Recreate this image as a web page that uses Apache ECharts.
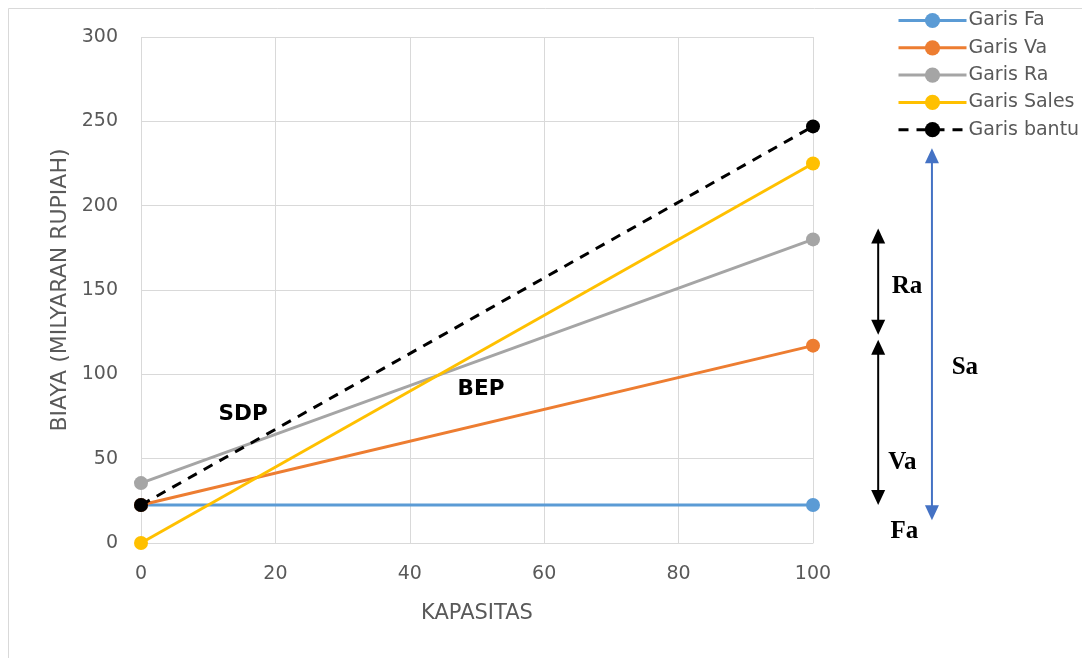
<!DOCTYPE html>
<html><head><meta charset="utf-8">
<script src="https://cdn.jsdelivr.net/npm/echarts@6/dist/echarts.min.js"></script>
<style>html,body{margin:0;padding:0;background:#fff}#c{width:1082px;height:658px}</style>
</head><body><div id="c"></div>
<script>
var kapasitas = [0, 100];
var garisFa = [22.5, 22.5];
var garisVa = [22.5, 117];
var garisRa = [35.5, 180];
var garisSales = [0, 225];
var garisBantu = [22.5, 247];
var seriesNames = ['Garis Fa', 'Garis Va', 'Garis Ra', 'Garis Sales', 'Garis bantu'];
var seriesColors = ['#5B9BD5', '#ED7D31', '#A5A5A5', '#FFC000', '#000000'];
var xTicks = [0, 20, 40, 60, 80, 100];
var yTicks = [0, 50, 100, 150, 200, 250, 300];
// annotation arrows in data units [x, yFrom, yTo]
var arrowRa = [109.7, 186.5, 123.5];
var arrowVa = [109.7, 120.5, 22.5];
var arrowSa = [117.7, 234, 13.5];
var pointLabels = [
  {text: 'SDP', x: 15.2, y: 76},
  {text: 'BEP', x: 50.6, y: 91}
];
var sideLabels = [
  {text: 'Ra', x: 114.0, y: 152},
  {text: 'Va', x: 113.3, y: 47.5},
  {text: 'Fa', x: 113.6, y: 7},
  {text: 'Sa', x: 122.6, y: 104}
];

var FONT = "'DejaVu Sans'";
function pairs(ys){ return kapasitas.map(function(x,i){ return [x, ys[i]]; }); }
var allData = [garisFa, garisVa, garisRa, garisSales, garisBantu];

var chart = echarts.init(document.getElementById('c'));
var series = allData.map(function(d, i){
  return {
    name: seriesNames[i], type: 'line', data: pairs(d),
    symbol: 'circle', symbolSize: 14,
    itemStyle: {color: seriesColors[i]},
    lineStyle: {color: seriesColors[i], width: 3, type: i === 4 ? [10, 8] : 'solid'},
    z: 2 + (i === 4 ? 5 : i)
  };
});
chart.setOption({
  animation: false,
  backgroundColor: '#fff',
  grid: {left: 141, right: 269, top: 37, bottom: 115},
  legend: {
    orient: 'vertical', left: 892, top: 6, itemGap: 8.3, itemWidth: 68, itemHeight: 19,
    data: seriesNames,
    lineStyle: {width: 3},
    textStyle: {fontFamily: FONT, fontSize: 19, color: '#595959', padding: [0,0,0,-3]}
  },
  xAxis: {
    type: 'value', min: 0, max: 100, interval: 20,
    name: 'KAPASITAS', nameLocation: 'middle', nameGap: 60,
    nameTextStyle: {fontFamily: FONT, fontSize: 21, color: '#595959'},
    axisLine: {show: true, lineStyle: {color: '#d9d9d9', width: 1}},
    axisTick: {show: false},
    axisLabel: {margin: 22, fontFamily: FONT, fontSize: 19, color: '#595959'},
    splitLine: {show: true, lineStyle: {color: '#d9d9d9', width: 1}}
  },
  yAxis: {
    type: 'value', min: 0, max: 300, interval: 50,
    name: 'BIAYA (MILYARAN RUPIAH)', nameLocation: 'middle', nameGap: 65, nameRotate: 90,
    nameTextStyle: {fontFamily: FONT, fontSize: 22, color: '#595959'},
    axisLine: {show: false}, axisTick: {show: false},
    axisLabel: {margin: 23, fontFamily: FONT, fontSize: 19, color: '#595959'},
    splitLine: {show: true, lineStyle: {color: '#d9d9d9', width: 1}}
  },
  series: series
});

function px(x, y){ return chart.convertToPixel({gridIndex: 0}, [x, y]); }
function arrowEl(a, color){
  var p1 = px(a[0], a[1]), p2 = px(a[0], a[2]);
  var els = [{type: 'line', shape: {x1: p1[0], y1: p1[1] + 12, x2: p2[0], y2: p2[1] - 10}, style: {stroke: color, lineWidth: 2}}];
  els.push({type: 'polygon', shape: {points: [[p1[0], p1[1]], [p1[0]-7, p1[1]+15], [p1[0]+7, p1[1]+15]]}, style: {fill: color}});
  els.push({type: 'polygon', shape: {points: [[p2[0], p2[1]], [p2[0]-7, p2[1]-15], [p2[0]+7, p2[1]-15]]}, style: {fill: color}});
  return els;
}
var g = [];
g.push({type: 'rect', shape: {x: 8.5, y: 8.5, width: 1100, height: 700}, style: {fill: 'none', stroke: '#d9d9d9', lineWidth: 1}, z: -1});
g = g.concat(arrowEl(arrowRa, '#000'), arrowEl(arrowVa, '#000'), arrowEl(arrowSa, '#4472C4'));
pointLabels.forEach(function(l){
  var p = px(l.x, l.y);
  g.push({type: 'text', x: p[0], y: p[1], style: {text: l.text, fill: '#000', font: "bold 21.5px 'DejaVu Sans'", textAlign: 'center', textVerticalAlign: 'middle'}, z: 20});
});
sideLabels.forEach(function(l){
  var p = px(l.x, l.y);
  g.push({type: 'text', x: p[0], y: p[1], style: {text: l.text, fill: '#000', font: "bold 25px 'Liberation Serif'", textAlign: 'center', textVerticalAlign: 'middle'}, z: 20});
});
chart.setOption({graphic: g});
</script>
</body></html>
